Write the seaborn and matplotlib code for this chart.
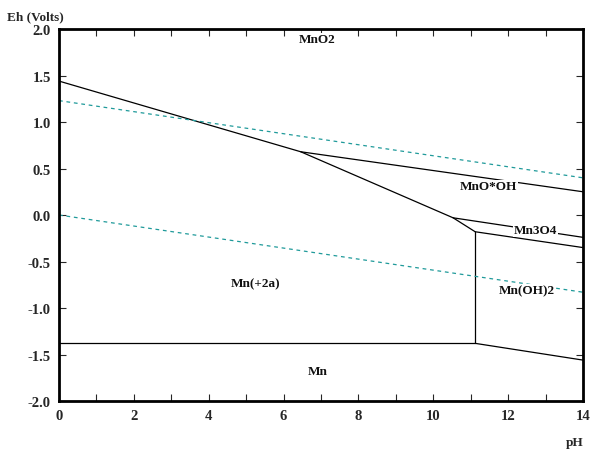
import numpy as np
import pandas as pd
import matplotlib
matplotlib.use("Agg")
import matplotlib.pyplot as plt
import seaborn as sns
from matplotlib.ticker import MultipleLocator

# --- du lieu: cac duong bien (pH, Eh) doc tu hinh ---
mno2_mn2_ph = [0.0, 6.46, 10.53, 11.12]
mno2_mn2_eh = [1.44, 0.68, -0.03, -0.18]
mno2_mnooh_ph = [6.46, 14.0]
mno2_mnooh_eh = [0.68, 0.25]
mnooh_mn3o4_ph = [10.53, 14.0]
mnooh_mn3o4_eh = [-0.03, -0.24]
mn3o4_mnoh2_ph = [11.12, 14.0]
mn3o4_mnoh2_eh = [-0.18, -0.35]
mn2_mnoh2_ph = [11.12, 11.12]
mn2_mnoh2_eh = [-0.18, -1.38]
mn2_mn_ph = [0.0, 11.12]
mn2_mn_eh = [-1.38, -1.38]
mnoh2_mn_ph = [11.12, 14.0]
mnoh2_mn_eh = [-1.38, -1.56]

# duong on dinh cua nuoc
water_ph = [0.0, 14.0]
water_o2_eh = [1.23, 0.40]
water_h2_eh = [0.0, -0.83]

# nhan cac vung
labels = ["MnO2", "MnO*OH", "Mn3O4", "Mn(+2a)", "Mn(OH)2", "Mn"]
label_ph = [6.9, 11.47, 12.74, 5.25, 12.5, 6.9]
label_eh = [1.89, 0.31, -0.16, -0.73, -0.81, -1.68]

sns.set_style("white")
plt.rcParams["font.family"] = ["Liberation Serif", "DejaVu Serif"]

fig = plt.figure(figsize=(5.92, 4.52), dpi=100)
ax = fig.add_axes([0.0997, 0.1106, 0.885, 0.823])

boundaries = [
    (mno2_mn2_ph, mno2_mn2_eh),
    (mno2_mnooh_ph, mno2_mnooh_eh),
    (mnooh_mn3o4_ph, mnooh_mn3o4_eh),
    (mn3o4_mnoh2_ph, mn3o4_mnoh2_eh),
    (mn2_mnoh2_ph, mn2_mnoh2_eh),
    (mn2_mn_ph, mn2_mn_eh),
    (mnoh2_mn_ph, mnoh2_mn_eh),
]
for xs, ys in boundaries:
    sns.lineplot(x=xs, y=ys, ax=ax, color="black", lw=0.9, sort=False,
                 estimator=None)

for ys in [water_o2_eh, water_h2_eh]:
    sns.lineplot(x=water_ph, y=ys, ax=ax, color="#1f9a9a", lw=0.9,
                 dashes=False, estimator=None, sort=False)
for line in ax.lines[-2:]:
    line.set_linestyle((0, (3, 3)))

for t, x, y in zip(labels, label_ph, label_eh):
    ax.text(x, y, t, ha="center", va="center", fontsize=9.5,
            fontweight="bold", color="#111111",
            bbox=dict(facecolor="white", edgecolor="none", pad=0.5))

ax.set_xlim(0, 14)
ax.set_ylim(-2, 2)
ax.xaxis.set_major_locator(MultipleLocator(2))
ax.xaxis.set_minor_locator(MultipleLocator(1))
ax.yaxis.set_major_locator(MultipleLocator(0.5))
ax.tick_params(which="both", direction="in", top=True, right=True,
               bottom=True, left=True, length=5, width=0.8,
               labelsize=10.5, pad=6)
ax.set_xticks(np.arange(0, 15, 2))
ax.set_xticklabels([str(v) for v in range(0, 15, 2)], fontweight="bold")
ax.set_yticks(np.arange(-2, 2.01, 0.5))
ax.set_yticklabels([f"{v:.1f}" for v in np.arange(-2, 2.01, 0.5)],
                   fontweight="bold")
for s in ax.spines.values():
    s.set_linewidth(2)
    s.set_color("black")

fig.text(0.012, 0.962, "Eh (Volts)", fontsize=9.5, fontweight="bold",
         ha="left", va="center")
fig.text(0.985, 0.02, "pH", fontsize=9.5, fontweight="bold",
         ha="right", va="center")

fig.savefig("out.png", dpi=100)
